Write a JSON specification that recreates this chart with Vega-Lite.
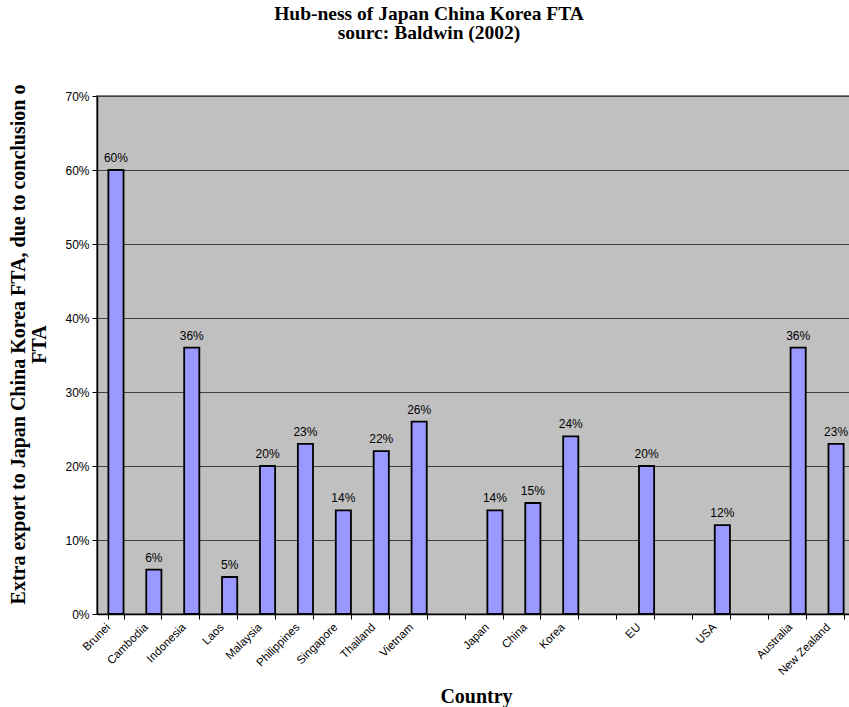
{
  "$schema": "https://vega.github.io/schema/vega-lite/v6.json",
  "width": 758,
  "height": 518,
  "autosize": {"type": "none"},
  "padding": {"left": 97, "top": 96, "right": -6, "bottom": 93},
  "background": "white",
  "title": {
    "text": ["Hub-ness of Japan China Korea FTA", "sourc: Baldwin (2002)"],
    "font": "Liberation Serif",
    "fontSize": 19.5,
    "fontWeight": "bold",
    "color": "#000000",
    "lineHeight": 18.5,
    "anchor": "middle",
    "frame": "group",
    "dx": -47,
    "offset": 41
  },
  "data": {
    "values": [
      {"country": "Brunei", "share": 0.60},
      {"country": "Cambodia", "share": 0.06},
      {"country": "Indonesia", "share": 0.36},
      {"country": "Laos", "share": 0.05},
      {"country": "Malaysia", "share": 0.20},
      {"country": "Philippines", "share": 0.23},
      {"country": "Singapore", "share": 0.14},
      {"country": "Thailand", "share": 0.22},
      {"country": "Vietnam", "share": 0.26},
      {"country": "Japan", "share": 0.14},
      {"country": "China", "share": 0.15},
      {"country": "Korea", "share": 0.24},
      {"country": "EU", "share": 0.20},
      {"country": "USA", "share": 0.12},
      {"country": "Australia", "share": 0.36},
      {"country": "New Zealand", "share": 0.23}
    ]
  },
  "config": {
    "view": {"fill": "#C0C0C0", "stroke": "#808080", "strokeWidth": 2},
    "axis": {
      "labelFont": "Liberation Sans",
      "labelFontSize": 12,
      "labelColor": "#000000",
      "titleFont": "Liberation Serif",
      "titleFontSize": 20,
      "titleFontWeight": "bold",
      "titleColor": "#000000",
      "domainColor": "#000000",
      "domainWidth": 1.5,
      "tickColor": "#000000",
      "tickSize": 5
    }
  },
  "encoding": {
    "x": {
      "field": "country",
      "type": "nominal",
      "scale": {
        "domain": ["Brunei", "Cambodia", "Indonesia", "Laos", "Malaysia", "Philippines", "Singapore", "Thailand", "Vietnam", " ", "Japan", "China", "Korea", "  ", "EU", "   ", "USA", "    ", "Australia", "New Zealand"],
        "paddingInner": 0.6,
        "paddingOuter": 0.3
      },
      "axis": {
        "title": "Country",
        "labelAngle": -45,
        "labelFontSize": 11.5,
        "labelPadding": 2,
        "labelOffset": -12,
        "tickBand": "extent",
        "grid": false,
        "titleX": 379,
        "titleY": 88,
        "titleAlign": "center",
        "titleBaseline": "alphabetic"
      }
    },
    "y": {
      "field": "share",
      "type": "quantitative",
      "scale": {"domain": [0, 0.7], "nice": false},
      "axis": {
        "title": ["Extra export to Japan China Korea FTA, due to conclusion o", "FTA"],
        "titleLineHeight": 21,
        "titleX": -79,
        "titleY": 248,
        "titleAlign": "center",
        "titleBaseline": "middle",
        "format": ".0%",
        "values": [0, 0.1, 0.2, 0.3, 0.4, 0.5, 0.6, 0.7],
        "grid": true,
        "gridColor": "#404040",
        "gridWidth": 1,
        "labelPadding": 3
      }
    }
  },
  "layer": [
    {
      "mark": {"type": "bar", "fill": "#9999FF", "stroke": "#000000", "strokeWidth": 1.8}
    },
    {
      "mark": {
        "type": "text",
        "baseline": "bottom",
        "dy": -5,
        "font": "Liberation Sans",
        "fontSize": 12,
        "color": "#000000"
      },
      "encoding": {
        "text": {"field": "share", "type": "quantitative", "format": ".0%"}
      }
    }
  ]
}
